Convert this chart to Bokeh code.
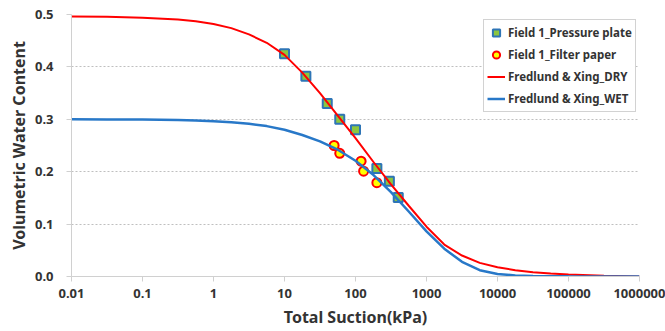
from bokeh.plotting import figure
from bokeh.models import FixedTicker, PrintfTickFormatter, Legend, LegendItem
from bokeh.embed import file_html
from bokeh.resources import INLINE

# ---- data ----
pp_suction = [10, 20, 40, 60, 100, 200, 300, 400]
pp_theta = [0.425, 0.382, 0.330, 0.300, 0.280, 0.206, 0.182, 0.151]

fp_suction = [50, 60, 120, 130, 200]
fp_theta = [0.250, 0.235, 0.220, 0.201, 0.179]

curve_suction = [0.01, 0.0316, 0.1, 0.316, 0.562, 1, 1.78, 3.16, 5.62, 10, 17.8,
                 31.6, 56.2, 100, 178, 316, 562, 1000, 1780, 3160, 5620, 10000,
                 17800, 31600, 56200, 100000, 316000, 1000000]
dry_theta = [0.496, 0.4955, 0.494, 0.4905, 0.487, 0.482, 0.474, 0.462, 0.446, 0.423,
             0.389, 0.350, 0.307, 0.264, 0.219, 0.176, 0.135, 0.095, 0.061, 0.040,
             0.026, 0.0177, 0.012, 0.0082, 0.0057, 0.0038, 0.0016, 0.0]
wet_theta = [0.300, 0.2998, 0.2995, 0.2985, 0.2978, 0.2965, 0.2945, 0.2915, 0.287,
             0.280, 0.270, 0.258, 0.242, 0.221, 0.194, 0.161, 0.124, 0.086, 0.053,
             0.028, 0.012, 0.0048, 0.002, 0.0009, 0.0005, 0.0003, 0.0001, 0.0]

x_ticks = [0.01, 0.1, 1, 10, 100, 1000, 10000, 100000, 1000000]
x_tick_labels = ["0.01", "0.1", "1", "10", "100", "1000", "10000", "100000", "1000000"]
y_ticks = [0.0, 0.1, 0.2, 0.3, 0.4, 0.5]

FONT = "Noto Sans"
TXT = "#333333"
AXC = "#d0d0d0"

p = figure(width=665, height=331, x_axis_type="log",
           x_range=(0.01, 1000000), y_range=(0, 0.5),
           output_backend="svg", toolbar_location=None,
           min_border_left=71, min_border_right=26,
           min_border_top=14, min_border_bottom=55)
p.outline_line_color = None

sq = p.scatter(pp_suction, pp_theta, marker="square", size=9,
               fill_color="#8CC63F", line_color="#2E75B6", line_width=2)
ci = p.scatter(fp_suction, fp_theta, marker="circle", size=9,
               fill_color="#FFFF00", line_color="#FF0000", line_width=2)
dry = p.line(curve_suction, dry_theta, line_color="#FF0000", line_width=2)
wet = p.line(curve_suction, wet_theta, line_color="#2878C8", line_width=2.5)

# axes
xa = p.xaxis[0]
xa.ticker = FixedTicker(ticks=x_ticks)
xa.major_label_overrides = dict(zip(x_ticks, x_tick_labels))
xa.minor_tick_line_color = None
xa.major_tick_out = 5
xa.major_tick_in = 0
xa.major_tick_line_color = AXC
xa.axis_line_color = AXC
xa.major_label_standoff = 7
xa.major_label_text_font = FONT
xa.major_label_text_font_style = "bold"
xa.major_label_text_font_size = "13px"
xa.major_label_text_color = TXT
xa.axis_label = "Total Suction(kPa)"
xa.axis_label_text_font = FONT
xa.axis_label_text_font_style = "bold"
xa.axis_label_text_font_size = "16px"
xa.axis_label_text_color = TXT
xa.axis_label_standoff = 5

ya = p.yaxis[0]
ya.ticker = FixedTicker(ticks=y_ticks)
ya.formatter = PrintfTickFormatter(format="%.1f")
ya.minor_tick_line_color = None
ya.major_tick_out = 5
ya.major_tick_in = 0
ya.major_tick_line_color = AXC
ya.axis_line_color = AXC
ya.major_label_standoff = 13
ya.major_label_text_font = FONT
ya.major_label_text_font_style = "bold"
ya.major_label_text_font_size = "13px"
ya.major_label_text_color = TXT
ya.axis_label = "Volumetric Water Content"
ya.axis_label_text_font = FONT
ya.axis_label_text_font_style = "bold"
ya.axis_label_text_font_size = "16px"
ya.axis_label_text_color = TXT
ya.axis_label_standoff = 2

p.xgrid.grid_line_color = None
p.ygrid.grid_line_color = "#bfbfbf"
p.ygrid.grid_line_dash = "2 2"
p.ygrid.grid_line_width = 1

legend = Legend(items=[
    LegendItem(label="Field 1_Pressure plate", renderers=[sq]),
    LegendItem(label="Field 1_Filter paper", renderers=[ci]),
    LegendItem(label="Fredlund & Xing_DRY", renderers=[dry]),
    LegendItem(label="Fredlund & Xing_WET", renderers=[wet]),
], location=(412, 164))
legend.margin = 0
legend.padding = 3
legend.spacing = 3
legend.glyph_width = 18
legend.glyph_height = 19
legend.label_height = 19
legend.label_standoff = 3
legend.label_text_font = FONT
legend.label_text_font_style = "bold"
legend.label_text_font_size = "11.5px"
legend.label_text_color = TXT
legend.border_line_color = "#a6a6a6"
legend.border_line_width = 1
legend.background_fill_color = "white"
legend.background_fill_alpha = 1
p.add_layout(legend, "center")

open("out.html", "w").write(file_html(p, INLINE))
